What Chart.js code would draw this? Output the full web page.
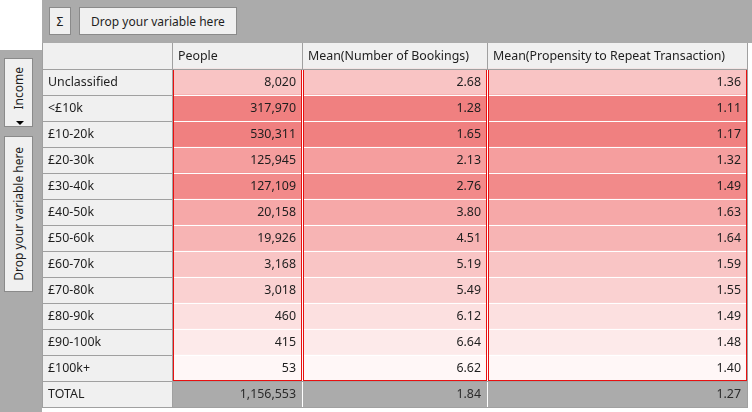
<!DOCTYPE html>
<html>
<head>
<meta charset="utf-8">
<script src="https://cdn.jsdelivr.net/npm/chart.js@4.4.1/dist/chart.umd.min.js"></script>
<style>
  body {
    margin: 0;
    width: 752px;
    height: 412px;
    background: #ababab;
    position: relative;
    overflow: hidden;
    font-family: "Noto Sans", sans-serif;
    font-size: 12px;
    color: #1e1e1e;
  }
  .corner { position: absolute; left: 0; top: 0; width: 42px; height: 50px; background: #fff; }
  .btn {
    position: absolute;
    background: #f0f0f0;
    border: 1px solid #8a8a8a;
    box-sizing: border-box;
    display: flex;
    align-items: center;
    justify-content: center;
    white-space: nowrap;
  }
  .vtext { writing-mode: vertical-rl; transform: rotate(180deg); }
  .arrow {
    position: absolute;
    left: 11px;
    top: 62px;
    width: 0;
    height: 0;
    border-left: 4px solid transparent;
    border-right: 4px solid transparent;
    border-top: 4px solid #000;
  }
  #sheet { position: absolute; left: 42px; top: 43px; width: 710px; height: 369px; background: #fff; }
  #pivot { position: absolute; left: 0; top: 0; }
</style>
</head>
<body>
<div class="corner"></div>
<div class="btn" style="left:49px;top:7px;width:22px;height:28px;">Σ</div>
<div class="btn" style="left:79px;top:7px;width:158px;height:28px;">Drop your variable here</div>
<div class="btn" style="left:4px;top:58px;width:29px;height:69px;align-items:flex-start;">
  <span class="vtext" style="margin-top:8px;">Income</span>
  <div class="arrow"></div>
</div>
<div class="btn" style="left:4px;top:136px;width:29px;height:156px;">
  <span class="vtext">Drop your variable here</span>
</div>
<div id="sheet">
  <canvas id="pivot" width="706" height="365"></canvas>
</div>
<script>
const incomeBands = ["Unclassified", "<£10k", "£10-20k", "£20-30k", "£30-40k", "£40-50k",
  "£50-60k", "£60-70k", "£70-80k", "£80-90k", "£90-100k", "£100k+"];
const measureNames = ["People", "Mean(Number of Bookings)", "Mean(Propensity to Repeat Transaction)"];
const people = [8020, 317970, 530311, 125945, 127109, 20158, 19926, 3168, 3018, 460, 415, 53];
const meanBookings = [2.68, 1.28, 1.65, 2.13, 2.76, 3.80, 4.51, 5.19, 5.49, 6.12, 6.64, 6.62];
const meanPropensity = [1.36, 1.11, 1.17, 1.32, 1.49, 1.63, 1.64, 1.59, 1.55, 1.49, 1.48, 1.40];
const totals = [1156553, 1.84, 1.27];

// layout and look
const colWidths = [130, 130, 185, 260];
const rowShades = ["#f9c4c4", "#f08080", "#f08080", "#f59e9e", "#f28a8a", "#f6a8a8",
  "#f7b4b4", "#f9c5c5", "#fad1d1", "#fce0e0", "#fdeaea", "#fff7f7"];
const FONT = '12.4px "Noto Sans"';
const GRID = "#a0a0a0";

let colEdges = [0];
for (let i = 0; i < colWidths.length; i++) {
  colEdges.push(colEdges[i] + colWidths[i]);
}
const rowLabels = [""].concat(incomeBands, ["TOTAL"]);
const lastRow = rowLabels.length - 1;
const valueCols = [null, people, meanBookings, meanPropensity];

function fmt(c, v) {
  if (c == 1) return v.toLocaleString("en-GB");
  return v.toFixed(2);
}

function cellText(c, r) {
  if (r == 0) return c == 0 ? "" : measureNames[c - 1];
  if (r == lastRow) return c == 0 ? "TOTAL" : fmt(c, totals[c - 1]);
  return c == 0 ? incomeBands[r - 1] : fmt(c, valueCols[c][r - 1]);
}

function cellColour(c, r) {
  if (c == 0 || r == 0) return "#f0f0f0";
  if (r == lastRow) return "#ababab";
  return rowShades[r - 1];
}

const datasets = colWidths.map((w, c) => ({
  label: c == 0 ? "Income" : measureNames[c - 1],
  data: rowLabels.map(() => [colEdges[c], colEdges[c + 1]]),
  backgroundColor: rowLabels.map((l, r) => cellColour(c, r)),
  borderWidth: 0,
  barPercentage: 1,
  categoryPercentage: 1,
  grouped: false,
}));

function hline(ctx, x0, x1, y, colour) {
  ctx.fillStyle = colour;
  ctx.fillRect(Math.round(x0), Math.round(y), Math.round(x1 - x0), 1);
}
function vline(ctx, x, y0, y1, colour) {
  ctx.fillStyle = colour;
  ctx.fillRect(Math.round(x), Math.round(y0), 1, Math.round(y1 - y0));
}

const cellPainter = {
  id: "cellPainter",
  afterDatasetsDraw(chart) {
    const ctx = chart.ctx;
    const xs = chart.scales.x;
    const edgePx = colEdges.map((e) => xs.getPixelForValue(e));
    const bars = chart.getDatasetMeta(0).data;
    const rowTop = bars.map((b) => b.y - b.height / 2);
    const rowBottom = bars.map((b) => b.y + b.height / 2);
    const fullL = edgePx[0], fullR = edgePx[edgePx.length - 1];

    ctx.save();
    // white separators inside the shaded block
    for (let r = 2; r < lastRow; r++) {
      hline(ctx, edgePx[1], fullR, rowTop[r], "#ffffff");
    }
    for (let c = 2; c < colWidths.length; c++) {
      vline(ctx, edgePx[c], rowTop[1], rowBottom[lastRow], "#ffffff");
    }
    // red outline round each measure column
    ctx.strokeStyle = "#e81010";
    ctx.lineWidth = 1;
    for (let c = 1; c < colWidths.length; c++) {
      const l = Math.round(edgePx[c]) + 1, rr = Math.round(edgePx[c + 1]) - 1;
      const t = Math.round(rowTop[1]), b = Math.round(rowBottom[lastRow - 1]) - 1;
      ctx.strokeRect(l + 0.5, t + 0.5, rr - l, b - t);
    }
    // grey grid
    for (let r = 1; r <= lastRow; r++) {
      hline(ctx, fullL, edgePx[1], rowTop[r], GRID);
    }
    hline(ctx, fullL, fullR + 1, rowTop[1], GRID);
    hline(ctx, edgePx[1], fullR + 1, rowTop[lastRow], GRID);
    hline(ctx, fullL, fullR + 1, rowBottom[lastRow], GRID);
    vline(ctx, fullL, rowTop[0], rowBottom[lastRow], GRID);
    vline(ctx, edgePx[1], rowTop[0], rowBottom[lastRow], GRID);
    vline(ctx, fullR, rowTop[0], rowBottom[lastRow], GRID);
    for (let c = 2; c < colWidths.length; c++) {
      vline(ctx, edgePx[c], rowTop[0], rowBottom[0], GRID);
    }

    // cell texts
    ctx.font = FONT;
    ctx.textBaseline = "middle";
    chart.data.datasets.forEach((ds, c) => {
      chart.getDatasetMeta(c).data.forEach((bar, r) => {
        const left = Math.min(bar.x, bar.base), right = Math.max(bar.x, bar.base);
        const txt = cellText(c, r);
        ctx.fillStyle = r == lastRow && c > 0 ? "#2b2b2b" : "#1e1e1e";
        if (c == 0 || r == 0) {
          ctx.textAlign = "left";
          ctx.fillText(txt, left + 6, bar.y + 0.5);
        } else {
          ctx.textAlign = "right";
          ctx.fillText(txt, right - 6, bar.y + 0.5);
        }
      });
    });
    ctx.restore();
  },
};

new Chart(document.getElementById("pivot"), {
  type: "bar",
  data: { labels: rowLabels, datasets: datasets },
  options: {
    indexAxis: "y",
    responsive: false,
    animation: false,
    devicePixelRatio: 1,
    layout: { padding: { left: 0, top: 0, right: 1, bottom: 1 } },
    scales: {
      x: { type: "linear", min: 0, max: colEdges[colEdges.length - 1], display: false },
      y: { type: "category", display: false, offset: true },
    },
    plugins: { legend: { display: false }, tooltip: { enabled: false } },
  },
  plugins: [cellPainter],
});
</script>
</body>
</html>
